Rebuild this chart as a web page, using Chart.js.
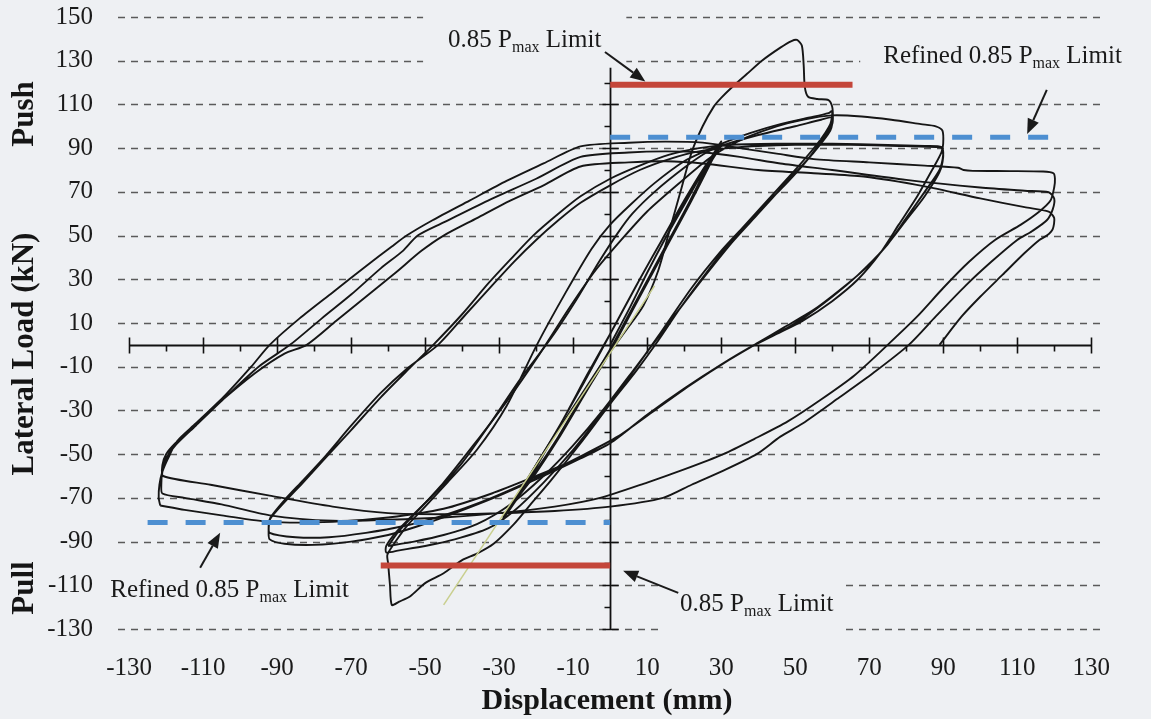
<!DOCTYPE html>
<html>
<head>
<meta charset="utf-8">
<title>Lateral load – displacement hysteresis</title>
<script src="https://cdn.jsdelivr.net/npm/chart.js@4.4.0/dist/chart.umd.min.js"></script>
<style>
  html, body { margin: 0; padding: 0; background: #eef0f3; }
  #wrap { width: 1151px; height: 719px; }
</style>
</head>
<body>
<div id="wrap"><canvas id="chart" width="1151" height="719"></canvas></div>
<script>
// ---- Tick values -------------------------------------------------------
const xTickValues = [-130, -110, -90, -70, -50, -30, -10, 10, 30, 50, 70, 90, 110, 130];
const yTickValues = [-130, -110, -90, -70, -50, -30, -10, 10, 30, 50, 70, 90, 110, 130, 150];

// ---- Hysteresis record: [displacement (mm), lateral load (kN)] ----------
// cycles to +/-30 mm
const cycles30 = [
  [0,0],[5,16],[10,33],[15,49],[20,64],[25,79],[30,93],
  [28,86],[22,66],[15,44],[8,22],[1,0],[-6,-20],[-13,-40],[-20,-58],[-25,-70],[-29,-80],
  [-27,-75],[-21,-59],[-14,-38],[-7,-17],[0,5],[7,27],[14,48],[20,66],[25,80],[30,92],
  [27,84],[21,64],[14,42],[7,20],[0,-2],[-7,-22],[-14,-42],[-21,-60],[-26,-72],[-29,-79],
  [-26,-72],[-20,-55],[-13,-35],[-6,-13],[1,8],[8,30],[15,51],[21,68],[26,82],[30,91],
  [27,83],[21,63],[14,41],[7,19],[0,-3],[-7,-23],[-14,-43],[-21,-61],[-26,-72],[-29,-79]
];

// cycles to +/-60 mm (first push reaches Pmax, first pull reaches the minimum)
const cycles60 = [
  [-29,-79],[-23,-63],[-16,-44],[-9,-26],[-2,-8],[4,6],[9,18],[13,34],[16,52],[19,70],[22,88],
  [25,100],[28,109],[30,113],[33,118],[37,124],[41,130],[46,136],[49,139],[50.5,139.5],[51.8,137],
  [52.3,128],[52.6,118],[53.5,113.5],[56,112.5],[59,112],[60,109],[60.2,104],
  [60,101],[57,93],[52,82],[46,71],[40,61],[33,48],[26,33],[19,17],[13,2],[7,-12],[0,-27],[-8,-45],
  [-16,-62],[-22,-74],[-26,-82],[-31.5,-91],[-36,-95.5],[-40,-98.5],[-45,-104.5],[-50,-109],
  [-54,-115],[-57,-117.5],[-59,-119],[-59.5,-110],[-60,-100],[-60.2,-96],
  [-58,-90],[-55,-83],[-50,-74],[-44,-63],[-36,-48],[-28,-28],[-19.8,0],[-12,24],[-5,44],[0,55],
  [5.4,64],[12,74],[20,84],[26,89],[30,92],[38,97],[46,101],[54,104],[59,106],[60,107],
  [59.5,101],[56,92],[50,80],[43,67],[36,54],[30,43],[22,26],[13,4],[5,-15],[-3,-33],[-10,-48],
  [-18,-63],[-26,-76],[-33,-84],[-42,-89],[-50,-92],[-57,-94],[-60.5,-95],
  [-60.5,-92],[-58,-86],[-54,-79],[-48,-69],[-40,-54],[-32,-35],[-24,-15],[-16,3],[-9,21],[-3,38],
  [2,51],[6,60],[12,70],[20,81],[26,88],[30,91],[40,96],[50,100],[57,103],[60,104],
  [59.5,98],[55,88],[48,75],[40,60],[33,47],[24,28],[15,8],[7,-10],[-2,-30],[-10,-46],[-18,-60],
  [-27,-73],[-36,-82],[-45,-87],[-53,-90],[-60,-92]
];

// cycles to +/-90 mm
const cycles90 = [
  [-60,-92],[-57,-85],[-52,-76],[-45,-63],[-37,-46],[-28,-26],[-19,-4],[-11,17],[-4,34],[3,48],
  [10,61],[18,73],[25,83],[30,89],[37,95],[45,100],[52,103],[60,105],[68,104.5],[76,103],[84,101],
  [88,100],[89.8,98],[90,92],
  [89.5,88],[87,80],[83,68],[78,55],[73,42],[67,30],[60,20],[52,11],[45,5],[39,0],[30,-9],[20,-20],
  [10,-32],[0,-45],[-8,-52],[-18,-60],[-30,-69],[-42,-77],[-52,-83],[-60,-87],[-70,-90],[-80,-91.5],
  [-88,-91],[-92,-89],[-92.3,-85],[-92,-80],
  [-88,-72],[-83,-63],[-77.6,-53],[-70,-39],[-62,-24],[-55,-12],[-47.8,0],[-40,14],[-33,28],[-27,39],
  [-20.8,50],[-14,60],[-8,68],[0,76],[8,82],[16,87],[24,90],[32,91.5],[45,92],[60,92],
  [75,91.5],[85,91],[89.6,90.5],[90,87],
  [89,80],[85,70],[80,58],[75,46],[69,35],[62,25],[55,16],[47,8],[40,1],[32,-7],[22,-18],[12,-30],
  [2,-42],[-8,-51],[-20,-61],[-32,-70],[-45,-78],[-56,-83],[-66,-86],[-76,-88],[-85,-88],[-92,-86],
  [-92.2,-82],[-91.8,-79],
  [-88,-71],[-83,-62],[-77,-51],[-70,-37],[-62,-22],[-55,-11],[-46.5,0],[-39,14],[-32,27],[-26,38],
  [-20,48],[-14,57],[-8,65],[0,73],[8,80],[16,85],[24,88.5],[32,90],[40,91],[50,91.5],[65,91.5],
  [78,91],[88,90.5],[89.6,90],[90,86],
  [89,79],[85,68],[80,57],[74,44],[67,32],[60,22],[52,12],[45,5],[38,-1],[30,-9],[20,-20],[10,-32],
  [0,-45],[-10,-53],[-20,-60],[-32,-68],[-45,-75],[-60,-79],[-75,-81],[-92,-81],[-105,-78],
  [-115,-75.5],[-121.6,-73.5]
];

// cycles to +/-120 mm, ending on the final unloading
const cycles120 = [
  [-121.6,-73.5],[-122,-70],[-121.8,-64],[-121,-58],[-119.5,-52],[-117,-44],[-112,-36],[-104,-23],
  [-97,-10],[-92,0],[-84,12],[-75,24],[-66,36],[-59,45],[-55,50],[-48,57],[-38,66],[-28,75],[-18,83],
  [-8,90.8],[5,92.5],[15,93],[25,92.5],[35,90],[45,87.5],[55,85],[70,83.5],[85,82],[94,81],[95.5,80],
  [98,79.6],[108,79.5],[117,79.3],[119.8,78.5],[120.2,76],
  [120,72],[119,66],[116,61],[111,55],[104,48],[97,38],[90,26],[83,13],[75,0],[66,-14],[57,-25],
  [48,-35],[39,-43],[30.6,-50],[20,-57],[10,-63],[-2.7,-70],[-15,-74],[-30,-77],[-45,-79],[-60,-80],
  [-75,-80.5],[-92,-78],[-105,-73],[-115,-70],[-121,-68],
  [-121.3,-64],[-121,-58],[-120,-52],[-117.5,-46],[-112,-37],[-104,-24],[-95,-10],[-86.5,0],[-78,12],
  [-70,23],[-62,35],[-56,43],[-52,50],[-45,56],[-33,66],[-20,76],[-8,86],[5,88],[15,88.5],[25,88],
  [35,86],[46,83],[60,80],[80,75.5],[100,72],[112,70.5],[118.5,69.8],[120,67],
  [119.6,62],[118,57],[114,52],[110,48],[103,38],[96,27],[88,13],[80.7,0],[71,-13],[62,-24],[52,-36],
  [46,-42],[39.6,-50],[30,-58],[22,-64],[14.3,-70],[0,-74],[-15,-76],[-30,-77],[-45,-77.5],[-60,-77],
  [-75,-74],[-92,-69],[-108,-64],[-120.8,-60],
  [-121,-55],[-120,-50],[-117.5,-45],[-113,-38],[-106,-27],[-96,-13],[-88,-4],[-82,0],[-74,11],
  [-66,22],[-58,33],[-51,43],[-45,50],[-36,58],[-27,66],[-18,73],[-8,81.6],[5,83.5],[15,84],[25,83],
  [40,80],[55,78.5],[68.5,77],[85,72.5],[100,67],[112,63],[118.5,61],[120,58],
  [119.6,53],[118,50],[116,48],[112,42],[106,32],[100,22],[95,13],[89,0]
];

// initial stiffness line
const stiffnessLine = [[-45,-119],[12,27]];

// 0.85 Pmax limits (kN) and their extents (mm)
const pushLimit = 119,  pushLimitSpan = [0, 65.5];
const pullLimit = -101, pullLimitSpan = [-62, 0];
const refinedPush = 95,    refinedPushSpan = [0, 121.5];
const refinedPull = -81.3, refinedPullSpan = [-125, 0];

// ---- Styling -------------------------------------------------------------
const PAGE = '#eef0f3';
const INK = '#161616';
const SERIF = '"Liberation Serif", "Times New Roman", serif';
const RED = '#c4463a';
const BLUE = '#4d8fd1';

const toPts = arr => arr.map(p => ({ x: p[0], y: p[1] }));
const curve = arr => ({
  data: toPts(arr), showLine: true, borderColor: INK, borderWidth: 1.9,
  pointRadius: 0, tension: 0.25, fill: false
});
const flat = (val, span, color, dash) => ({
  data: [{ x: span[0], y: val }, { x: span[1], y: val }], showLine: true,
  borderColor: color, borderWidth: dash ? 5 : 6, borderDash: dash || [], borderCapStyle: 'butt',
  pointRadius: 0, tension: 0, fill: false
});

// Text notes for the limit lines: anchor = baseline-left in data units,
// box = [left, above, right, below] margin of the opaque label box in px.
const notes = [
  { lead: '0.85 P',         anchor: [-43.8, 136.4],  box: [25, 47, 25, 21], arrow: [[-1.4, 134], [9.5, 120.5]] },
  { lead: 'Refined 0.85 P', anchor: [73.8, 129],     box: [23, 28, 40, 22], arrow: [[118, 116.7], [112.7, 96.5]] },
  { lead: 'Refined 0.85 P', anchor: [-135.1, -115.3],box: [8, 31, 24, 13],  arrow: [[-110.8, -102], [-105.4, -86]] },
  { lead: '0.85 P',         anchor: [18.9, -121.7],  box: [18, 37, 10, 31], arrow: [[18.4, -113.5], [3.5, -103.4]] }
];
const NOTE_FONT = '25px ' + SERIF;
const SUB_FONT = '16px ' + SERIF;

function noteLayout(ctx, xs, ys, n) {
  const left = xs.getPixelForValue(n.anchor[0]);
  const base = ys.getPixelForValue(n.anchor[1]);
  ctx.font = NOTE_FONT; const w1 = ctx.measureText(n.lead).width;
  ctx.font = SUB_FONT;  const w2 = ctx.measureText('max').width;
  ctx.font = NOTE_FONT; const w3 = ctx.measureText(' Limit').width;
  return { left, base, w1, w2, w3, width: w1 + w2 + w3 };
}

function arrow(ctx, x0, y0, x1, y1) {
  const ang = Math.atan2(y1 - y0, x1 - x0);
  const len = 15, half = 6;
  const bx = x1 - len * Math.cos(ang), by = y1 - len * Math.sin(ang);
  ctx.beginPath(); ctx.moveTo(x0, y0); ctx.lineTo(bx, by); ctx.stroke();
  ctx.beginPath();
  ctx.moveTo(x1, y1);
  ctx.lineTo(bx + half * Math.sin(ang), by - half * Math.cos(ang));
  ctx.lineTo(bx - half * Math.sin(ang), by + half * Math.cos(ang));
  ctx.closePath(); ctx.fill();
}

const frame = {
  id: 'frame',
  beforeDraw(chart) {
    const { ctx, width, height } = chart;
    ctx.save(); ctx.fillStyle = PAGE; ctx.fillRect(0, 0, width, height); ctx.restore();
  },
  beforeDatasetsDraw(chart) {
    const { ctx, chartArea: a, scales: { x, y } } = chart;
    ctx.save();
    // dashed horizontal grid
    ctx.strokeStyle = '#5a5a5a'; ctx.lineWidth = 1.4; ctx.setLineDash([7, 6]);
    yTickValues.forEach(v => {
      const py = Math.round(y.getPixelForValue(v)) + 0.5;
      ctx.beginPath(); ctx.moveTo(a.left, py); ctx.lineTo(a.right, py); ctx.stroke();
    });
    ctx.setLineDash([]);
    // axes through the origin
    const x0 = Math.round(x.getPixelForValue(0)) + 0.5;
    const y0 = Math.round(y.getPixelForValue(0)) + 0.5;
    ctx.strokeStyle = '#111'; ctx.lineWidth = 1.8;
    ctx.beginPath();
    ctx.moveTo(x.getPixelForValue(-130), y0); ctx.lineTo(x.getPixelForValue(130), y0);
    ctx.moveTo(x0, y.getPixelForValue(-130)); ctx.lineTo(x0, y.getPixelForValue(150));
    ctx.stroke();
    ctx.lineWidth = 1.6;
    ctx.beginPath();
    for (let v = -130; v <= 130; v += 10) {
      if (v === 0) continue;
      const px = Math.round(x.getPixelForValue(v)) + 0.5;
      if (Math.abs(v) % 20 === 10) { ctx.moveTo(px, y0 - 8); ctx.lineTo(px, y0 + 8); }
      else { ctx.moveTo(px, y0); ctx.lineTo(px, y0 + 6); }
    }
    for (let v = -130; v <= 150; v += 10) {
      if (v === 0) continue;
      const py = Math.round(y.getPixelForValue(v)) + 0.5;
      if (Math.abs(v) % 20 === 10) { ctx.moveTo(x0 - 8, py); ctx.lineTo(x0 + 8, py); }
      else { ctx.moveTo(x0 - 6, py); ctx.lineTo(x0, py); }
    }
    ctx.stroke();
    // opaque boxes behind the notes
    ctx.fillStyle = PAGE;
    notes.forEach(n => {
      const L = noteLayout(ctx, x, y, n);
      ctx.fillRect(L.left - n.box[0], L.base - n.box[1],
                   L.width + n.box[0] + n.box[2], n.box[1] + n.box[3]);
    });
    ctx.restore();
  },
  afterDatasetsDraw(chart) {
    const { ctx, scales: { x, y } } = chart;
    ctx.save();
    ctx.fillStyle = '#1a1a1a'; ctx.strokeStyle = '#1a1a1a'; ctx.lineWidth = 2;
    ctx.textBaseline = 'alphabetic'; ctx.textAlign = 'left';
    notes.forEach(n => {
      const L = noteLayout(ctx, x, y, n);
      ctx.font = NOTE_FONT; ctx.fillText(n.lead, L.left, L.base);
      ctx.font = SUB_FONT;  ctx.fillText('max', L.left + L.w1, L.base + 5);
      ctx.font = NOTE_FONT; ctx.fillText(' Limit', L.left + L.w1 + L.w2, L.base);
      const [t, h] = n.arrow;
      arrow(ctx, x.getPixelForValue(t[0]), y.getPixelForValue(t[1]),
                 x.getPixelForValue(h[0]), y.getPixelForValue(h[1]));
    });
    ctx.restore();
  },
  afterDraw(chart) {
    const { ctx } = chart;
    ctx.save();
    ctx.fillStyle = '#151515';
    ctx.font = 'bold 30px ' + SERIF;
    ctx.textAlign = 'center'; ctx.textBaseline = 'alphabetic';
    ctx.fillText('Displacement (mm)', 607, 709);
    ctx.font = 'bold 31px ' + SERIF;
    [['Push', 114], ['Lateral Load (kN)', 354], ['Pull', 588]].forEach(([t, cy]) => {
      ctx.save(); ctx.translate(33, cy); ctx.rotate(-Math.PI / 2);
      ctx.fillText(t, 0, 0); ctx.restore();
    });
    ctx.restore();
  }
};

const tickFont = { family: SERIF, size: 25 };

new Chart(document.getElementById('chart'), {
  type: 'scatter',
  data: {
    datasets: [
      flat(pushLimit, pushLimitSpan, RED),
      flat(pullLimit, pullLimitSpan, RED),
      flat(refinedPush, refinedPushSpan, BLUE, [20, 18]),
      flat(refinedPull, refinedPullSpan, BLUE, [20, 18]),
      { data: toPts(stiffnessLine), showLine: true, borderColor: '#c9cf8e', borderWidth: 1.5,
        pointRadius: 0, tension: 0, fill: false },
      curve(cycles30),
      curve(cycles60),
      curve(cycles90),
      curve(cycles120)
    ]
  },
  options: {
    responsive: false,
    animation: false,
    devicePixelRatio: 1,
    layout: { padding: { top: 17, right: 45, bottom: 0, left: 0 } },
    plugins: { legend: { display: false }, tooltip: { enabled: false } },
    scales: {
      x: {
        type: 'linear', min: -133, max: 134,
        grid: { display: false, drawTicks: false },
        border: { display: false },
        afterBuildTicks: s => { s.ticks = xTickValues.map(v => ({ value: v })); },
        afterFit: s => { s.height = 90; s.paddingLeft = 0; s.paddingRight = 0; },
        ticks: { autoSkip: false, maxRotation: 0, minRotation: 0, padding: 24,
                 color: '#1a1a1a', font: tickFont }
      },
      y: {
        type: 'linear', min: -130, max: 150,
        grid: { display: false, drawTicks: false },
        border: { display: false },
        afterBuildTicks: s => { s.ticks = yTickValues.map(v => ({ value: v })); },
        afterFit: s => { s.width = 118; s.paddingTop = 0; s.paddingBottom = 0; },
        ticks: { padding: 25, color: '#1a1a1a', font: tickFont }
      }
    }
  },
  plugins: [frame]
});
</script>
</body>
</html>
